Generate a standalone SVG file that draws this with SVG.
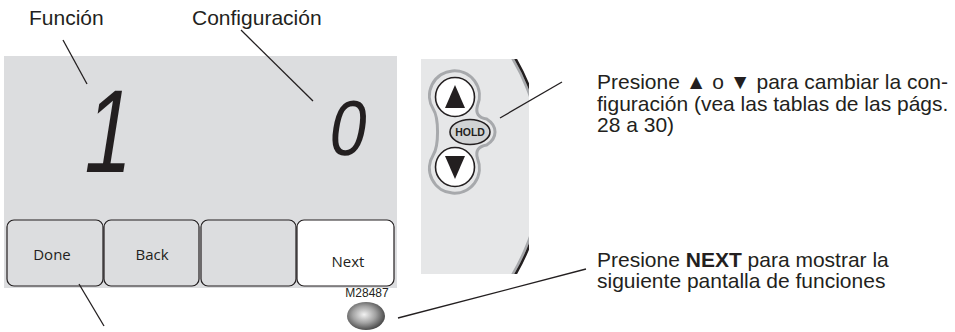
<svg xmlns="http://www.w3.org/2000/svg" width="955" height="332" viewBox="0 0 955 332">
  <defs>
    <style>
      .lbl { font-family: "Liberation Sans", Arial, sans-serif; font-size: 21px; fill: #231f20; }
      .btn { fill: #dcdddf; stroke: #231f20; stroke-width: 1.2; }
      .btntxt { font-family: "Open Sans", "Liberation Sans", sans-serif; font-size: 15px; fill: #231f20; text-anchor: middle; }
      .seg { font-family: "Liberation Sans", sans-serif; fill: #231f20; text-anchor: middle; }
      .lead { stroke: #231f20; stroke-width: 1.3; fill: none; }
      .key { fill: #ffffff; stroke: #231f20; stroke-width: 1.6; }
      .next { font-weight: bold; }
    </style>
    <clipPath id="panelClip">
      <rect x="421" y="59" width="108" height="215"/>
    </clipPath>
    <radialGradient id="ballGrad" cx="0.45" cy="0.45" r="0.6">
      <stop offset="0" stop-color="#f2f2f2"/>
      <stop offset="0.5" stop-color="#a3a3a3"/>
      <stop offset="1" stop-color="#3c3c3c"/>
    </radialGradient>
  </defs>

  <rect width="955" height="332" fill="#ffffff"/>

  <g id="lcd">
    <rect x="4" y="56" width="393" height="232" fill="#dcdddf"/>
    <text class="seg" font-size="118" transform="translate(104,172) skewX(-9) scale(0.72,1)">1</text>
    <text class="seg" font-size="78" transform="translate(345,155) skewX(-9) scale(0.85,1)">0</text>
  </g>

  <g id="btn-done">
    <rect class="btn" x="7" y="220" width="96" height="66" rx="7"/>
    <text class="btntxt" x="52" y="260">Done</text>
  </g>
  <g id="btn-back">
    <rect class="btn" x="104" y="220" width="95" height="66" rx="7"/>
    <text class="btntxt" x="152" y="260">Back</text>
  </g>
  <g id="btn-blank">
    <rect class="btn" x="201" y="220" width="95" height="66" rx="7"/>
  </g>
  <g id="btn-next">
    <rect class="btn" x="297" y="220" width="97" height="66" rx="7" style="fill:#ffffff"/>
    <text class="btntxt" x="348" y="267">Next</text>
  </g>

  <g id="panel">
    <g clip-path="url(#panelClip)">
      <circle cx="330" cy="166.5" r="214.5" fill="#e6e7e8"/>
      <circle cx="330" cy="166.5" r="212" fill="none" stroke="#a7a9ac" stroke-width="2.5"/>
      <circle cx="330" cy="166.5" r="214.5" fill="none" stroke="#231f20" stroke-width="2.5"/>
    </g>
    <path d="M477.6,105.2 Q474,117 486.7,119 A27 18 0 0 1 486.7,145 Q474,147 477.6,158.8 A25 25 0 1 1 433.2,155 C439,146 439,118 433.2,109 A25 25 0 1 1 477.6,105.2 Z" fill="#e6e7e8" stroke="#a7a9ac" stroke-width="3"/>
  </g>
  <g id="key-up">
    <circle class="key" cx="455" cy="97" r="19.5"/>
    <polygon points="455,85 445,108 465,108" fill="#231f20"/>
  </g>
  <g id="key-hold">
    <ellipse cx="470" cy="132" rx="20" ry="12.5" fill="#d1d3d4" stroke="#231f20" stroke-width="1.6"/>
    <text x="470" y="136" font-family="'Liberation Sans', sans-serif" font-weight="bold" font-size="10.5" fill="#231f20" text-anchor="middle">HOLD</text>
  </g>
  <g id="key-down">
    <circle class="key" cx="455" cy="167" r="19.5"/>
    <polygon points="445,156 465,156 455,179" fill="#231f20"/>
  </g>

  <g id="ball">
    <text x="367" y="297" font-family="'Liberation Sans', sans-serif" font-size="12" fill="#231f20" text-anchor="middle">M28487</text>
    <ellipse cx="366" cy="316" rx="19" ry="14" fill="url(#ballGrad)"/>
  </g>

  <g id="labels">
    <text class="lbl" x="29" y="25">Función</text>
    <text class="lbl" x="192" y="25">Configuración</text>
    <text class="lbl" x="597" y="89">Presione ▲ o ▼ para cambiar la con-</text>
    <text class="lbl" x="597" y="111">figuración (vea las tablas de las págs.</text>
    <text class="lbl" x="597" y="132">28 a 30)</text>
    <text class="lbl" x="597" y="267">Presione <tspan class="next">NEXT</tspan> para mostrar la</text>
    <text class="lbl" x="597" y="288">siguiente pantalla de funciones</text>
  </g>

  <g id="connectors">
    <line class="lead" x1="63" y1="40" x2="87" y2="84"/>
    <line class="lead" x1="241" y1="30" x2="313" y2="101"/>
    <line class="lead" x1="79" y1="284" x2="104" y2="326"/>
    <line class="lead" x1="562" y1="82" x2="500" y2="118"/>
    <line class="lead" x1="398" y1="318" x2="586" y2="269"/>
  </g>
</svg>
